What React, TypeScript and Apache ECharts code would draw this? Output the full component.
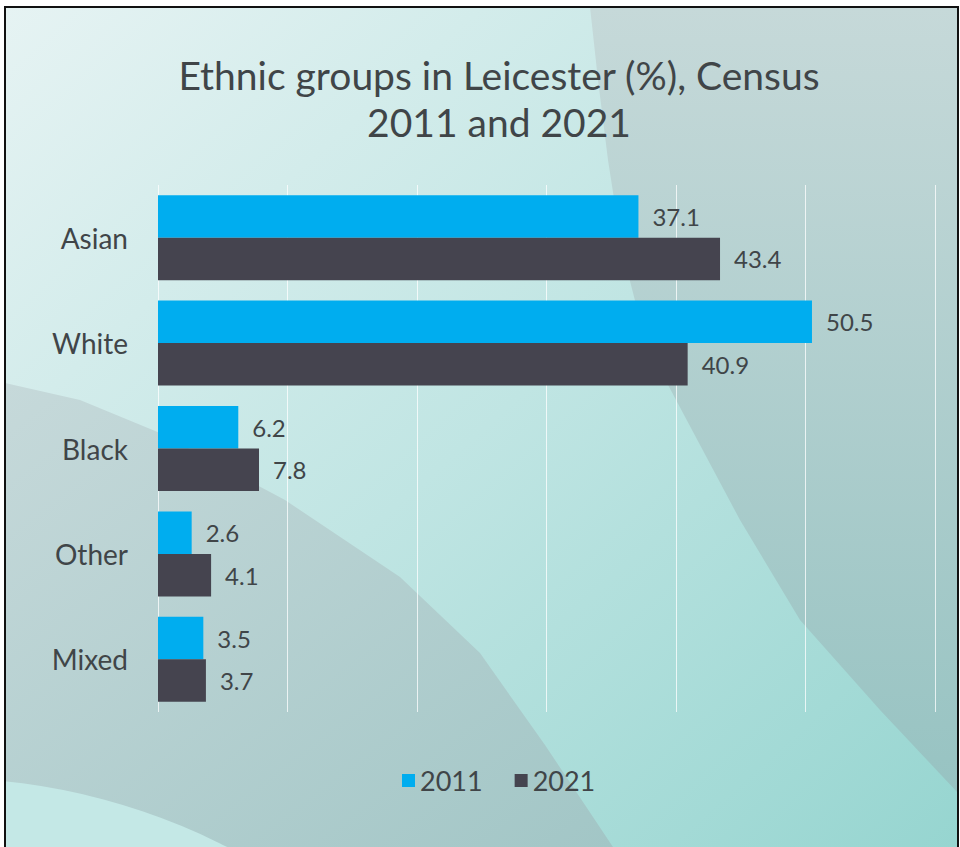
import React, { useEffect, useRef } from "react";
import * as echarts from "echarts";

const categories = ["Asian", "White", "Black", "Other", "Mixed"];
const values2011 = [37.1, 50.5, 6.2, 2.6, 3.5];
const values2021 = [43.4, 40.9, 7.8, 4.1, 3.7];
const seriesNames = ["2011", "2021"];
const xTicks = { min: 0, max: 60, interval: 10 };

const FONT = "Lato, 'Open Sans', sans-serif";
const TEXT = "#404548";

export default function App() {
  const ref = useRef<HTMLDivElement>(null);
  useEffect(() => {
    if (!ref.current) return;
    const chart = echarts.init(ref.current, undefined, { renderer: "svg" });
    const G = echarts.graphic;
    chart.setOption({
      animation: false,
      graphic: [
        {
          type: "rect",
          z: -10,
          silent: true,
          shape: { x: 0, y: 0, width: 960, height: 847 },
          style: { fill: "#ffffff" },
        },
        {
          type: "rect",
          z: -9,
          silent: true,
          shape: { x: 5, y: 7, width: 953, height: 845 },
          style: {
            fill: new G.LinearGradient(0, 0, 1, 1, [
              { offset: 0, color: "#e6f3f3" },
              { offset: 0.5, color: "#c0e5e3" },
              { offset: 1, color: "#96d5d0" },
            ]),
          },
        },
        {
          type: "polygon",
          z: -8,
          silent: true,
          shape: {
            points: [
              [590, 7], [598, 80], [608, 160], [622, 250], [640, 320], [667, 383],
              [740, 520], [800, 620], [880, 710], [958, 793], [958, 7],
            ],
          },
          style: {
            fill: new G.LinearGradient(0, 0, 0, 1, [
              { offset: 0, color: "#c6d9d9" },
              { offset: 1, color: "#97c3c2" },
            ]),
          },
        },
        {
          type: "polygon",
          z: -8,
          silent: true,
          shape: {
            points: [
              [5, 383], [80, 400], [160, 433], [285, 500], [400, 577], [480, 653],
              [545, 745], [613, 847], [5, 847],
            ],
          },
          style: {
            fill: new G.LinearGradient(0, 0, 1, 1, [
              { offset: 0, color: "#c6d9da" },
              { offset: 1, color: "#a2c6c6" },
            ]),
          },
        },
        {
          type: "circle",
          z: -7,
          silent: true,
          shape: { cx: -60, cy: 1410, r: 632 },
          style: { fill: "#c4e8e6" },
        },
        {
          type: "rect",
          z: -6,
          silent: true,
          shape: { x: 0, y: 0, width: 5, height: 847 },
          style: { fill: "#ffffff" },
        },
        {
          type: "rect",
          z: 100,
          silent: true,
          shape: { x: 5, y: 7, width: 953, height: 850 },
          style: { fill: "none", stroke: "#111111", lineWidth: 2 },
        },
        {
          type: "text",
          z: 100,
          x: 499,
          y: 51,
          style: {
            text: "Ethnic groups in Leicester (%), Census\n2011 and 2021",
            font: `39px ${FONT}`,
            fill: TEXT,
            align: "center",
            verticalAlign: "top",
            lineHeight: 47,
          },
        },
      ],
      legend: {
        data: seriesNames,
        left: 397,
        top: 762,
        itemWidth: 13,
        itemHeight: 13,
        itemGap: 32,
        icon: "rect",
        textStyle: { fontSize: 27, color: TEXT, fontFamily: FONT },
      },
      grid: { left: 158, right: 25, top: 185, bottom: 135, containLabel: false },
      xAxis: {
        type: "value",
        min: xTicks.min,
        max: xTicks.max,
        interval: xTicks.interval,
        axisLabel: { show: false },
        axisLine: { show: false },
        axisTick: { show: false },
        splitLine: { show: true, lineStyle: { color: "rgba(255,255,255,0.75)", width: 1 } },
      },
      yAxis: {
        type: "category",
        data: categories,
        inverse: true,
        axisLine: { show: false },
        axisTick: { show: false },
        axisLabel: { fontSize: 28, color: TEXT, fontFamily: FONT, margin: 30 },
      },
      series: [
        {
          name: seriesNames[0],
          type: "bar",
          data: values2011,
          barWidth: 42.5,
          barGap: "0%",
          itemStyle: { color: "#00adef" },
          label: {
            show: true,
            position: "right",
            distance: 14,
            fontSize: 24,
            color: TEXT,
            fontFamily: FONT,
          },
        },
        {
          name: seriesNames[1],
          type: "bar",
          data: values2021,
          barWidth: 42.5,
          barGap: "0%",
          itemStyle: { color: "#45444f" },
          label: {
            show: true,
            position: "right",
            distance: 14,
            fontSize: 24,
            color: TEXT,
            fontFamily: FONT,
          },
        },
      ],
    });
    return () => chart.dispose();
  }, []);
  return <div ref={ref} style={{ width: 960, height: 847, position: "absolute", left: 0, top: 0 }} />;
}
